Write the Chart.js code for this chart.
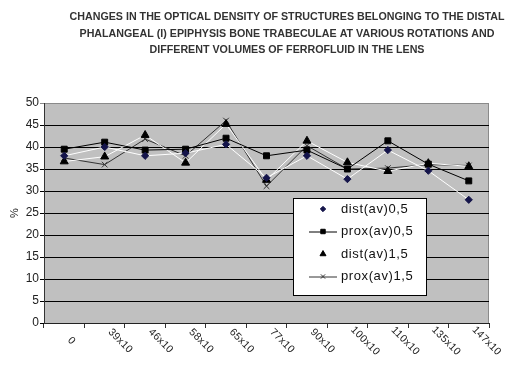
<!doctype html>
<html>

<head>
	<title>Optical density of trabeculae</title>
	<script src="https://cdn.jsdelivr.net/npm/chart.js@4/dist/chart.umd.min.js"></script>
	<style>
	html, body {
		margin: 0;
		padding: 0;
		background: #fff;
	}
	#container {
		width: 507px;
		height: 370px;
	}
	</style>
</head>

<body>
	<div id="container">
		<canvas id="canvas"></canvas>
	</div>
	<script>
		var categories = ['0', '39x10', '46x10', '58x10', '65x10', '77x10', '90x10', '100x10', '110x10', '135x10', '147x10'];
		var distAv05 = [38, 40, 38, 38.6, 40.6, 33, 38, 32.7, 39.3, 34.6, 28];
		var proxAv05 = [39.5, 41.1, 39.3, 39.5, 42, 38, 39.3, 35, 41.4, 36.1, 32.3];
		var distAv15 = [36.7, 37.8, 42.7, 36.4, 45.2, 32.5, 41.4, 36.5, 34.5, 36.3, 35.6];
		var proxAv15 = [37.5, 36, 41.8, 38, 46, 31.1, 40.3, 35, 35.2, 36, 35.8];
		var yTicks = [0, 5, 10, 15, 20, 25, 30, 35, 40, 45, 50];
		var titleLines = [
			'CHANGES IN THE OPTICAL DENSITY OF STRUCTURES BELONGING TO THE DISTAL',
			'PHALANGEAL (I) EPIPHYSIS BONE TRABECULAE AT VARIOUS ROTATIONS AND',
			'DIFFERENT VOLUMES OF FERROFLUID IN THE LENS'
		];

		var FONT = '"Liberation Sans", Arial, sans-serif';

		// grey plot area like the old excel chart
		var plotBg = {
			id: 'plotBg',
			beforeDraw: function(chart) {
				var a = chart.chartArea, ctx = chart.ctx;
				ctx.save();
				ctx.fillStyle = '#c0c0c0';
				ctx.fillRect(a.left, a.top, a.right - a.left, a.bottom - a.top);
				ctx.strokeStyle = '#8a8a8a';
				ctx.lineWidth = 1;
				ctx.strokeRect(a.left + 0.5, a.top + 0.5, a.right - a.left - 1, a.bottom - a.top);
				ctx.restore();
			}
		};

		var titleAndLabels = {
			id: 'titleAndLabels',
			afterDraw: function(chart) {
				var ctx = chart.ctx;
				ctx.save();
				// title, squeezed to the width of the original
				ctx.font = 'bold 11.5px ' + FONT;
				ctx.fillStyle = '#333';
				ctx.textAlign = 'center';
				ctx.textBaseline = 'middle';
				var w1 = ctx.measureText(titleLines[0]).width;
				var sx = 435 / w1;
				var ys = [17, 33.5, 50];
				titleLines.forEach(function(line, i) {
					ctx.save();
					ctx.translate(287, ys[i]);
					ctx.scale(sx, 1);
					ctx.fillText(line, 0, 0);
					ctx.restore();
				});

				// slanted category labels, reading down to the right
				var xs = chart.scales.x;
				ctx.font = '10.5px ' + FONT;
				ctx.letterSpacing = '0.3px';
				ctx.fillStyle = '#222';
				categories.forEach(function(lab, i) {
					var x = xs.getPixelForTick(i);
					var w = ctx.measureText(lab).width;
					ctx.save();
					ctx.translate(x + 5 + w * 0.3536, 341);
					ctx.rotate(Math.PI / 4);
					ctx.fillText(lab, 0, 0);
					ctx.restore();
				});
				ctx.restore();
			}
		};

		// boxed legend sitting inside the plot
		var boxLegend = {
			id: 'boxLegend',
			afterDraw: function(chart) {
				var ctx = chart.ctx;
				var bx = 293, by = 198, bw = 134, bh = 98;
				ctx.save();
				ctx.fillStyle = '#fff';
				ctx.fillRect(bx, by, bw, bh);
				ctx.strokeStyle = '#000';
				ctx.lineWidth = 1;
				ctx.strokeRect(bx + 0.5, by + 0.5, bw - 1, bh - 1);
				var rows = [209, 231.5, 254, 276.5];
				chart.data.datasets.forEach(function(ds, i) {
					var y = rows[i];
					if (ds.legendLine) {
						ctx.strokeStyle = ds.borderColor;
						ctx.lineWidth = 1;
						ctx.beginPath();
						ctx.moveTo(309, y + 0.5);
						ctx.lineTo(337, y + 0.5);
						ctx.stroke();
					}
					ctx.fillStyle = ds.pointBackgroundColor;
					ctx.strokeStyle = ds.pointBorderColor;
					ctx.lineWidth = 1;
					Chart.helpers.drawPoint(ctx, {
						pointStyle: ds.pointStyle,
						radius: ds.pointRadius * 0.75,
						borderWidth: 1
					}, 323, y);
					ctx.fillStyle = '#111';
					ctx.font = '13px ' + FONT;
					ctx.letterSpacing = '0.6px';
					ctx.textAlign = 'left';
					ctx.textBaseline = 'middle';
					ctx.fillText(ds.label, 341, y);
				});
				ctx.restore();
			}
		};

		function pointSet(label, data, line, marker, style, radius, legendLine) {
			return {
				label: label,
				data: data,
				borderColor: line,
				borderWidth: 1,
				backgroundColor: marker,
				pointBackgroundColor: marker,
				pointBorderColor: marker,
				pointBorderWidth: 1,
				pointStyle: style,
				pointRadius: radius,
				tension: 0,
				legendLine: legendLine
			};
		}

		window.onload = function() {
			var ctx = document.getElementById('canvas').getContext('2d');
			window.myLine = new Chart(ctx, {
				type: 'line',
				data: {
					labels: categories,
					datasets: [
						pointSet('dist(av)0,5', distAv05, '#ffffff', '#14144a', 'rectRot', 3.6, false),
						pointSet('prox(av)0,5', proxAv05, '#000000', '#000000', 'rect', 4.2, true),
						pointSet('dist(av)1,5', distAv15, '#ffffff', '#000000', 'triangle', 4.6, false),
						pointSet('prox(av)1,5', proxAv15, '#333333', '#333333', 'crossRot', 4, true)
					]
				},
				options: {
					responsive: true,
					maintainAspectRatio: false,
					animation: false,
					layout: {
						padding: {top: 103, right: 18, left: 0, bottom: 0}
					},
					plugins: {
						legend: {display: false},
						title: {display: false},
						tooltip: {enabled: false}
					},
					scales: {
						x: {
							type: 'category',
							offset: true,
							grid: {
								offset: true,
								drawOnChartArea: false,
								drawTicks: true,
								tickLength: 5,
								color: '#333'
							},
							border: {color: '#222', width: 1},
							ticks: {display: false},
							afterFit: function(scale) {
								scale.height = 47;
							}
						},
						y: {
							min: 0,
							max: 50,
							afterBuildTicks: function(scale) {
								scale.ticks = yTicks.map(function(v) {
									return {value: v};
								});
							},
							grid: {
								color: function(c) {
									return c.tick && c.tick.value === 50 ? '#8a8a8a' : '#000';
								},
								lineWidth: 1,
								tickLength: 4
							},
							border: {color: '#333', width: 1},
							ticks: {
								padding: 1,
								color: '#222',
								font: {family: FONT, size: 12}
							},
							title: {
								display: true,
								text: '%',
								color: '#222',
								font: {family: FONT, size: 11},
								padding: {top: 8, bottom: 0}
							},
							afterFit: function(scale) {
								scale.width = 44;
							}
						}
					}
				},
				plugins: [plotBg, titleAndLabels, boxLegend]
			});
		};
	</script>
</body>
</html>
